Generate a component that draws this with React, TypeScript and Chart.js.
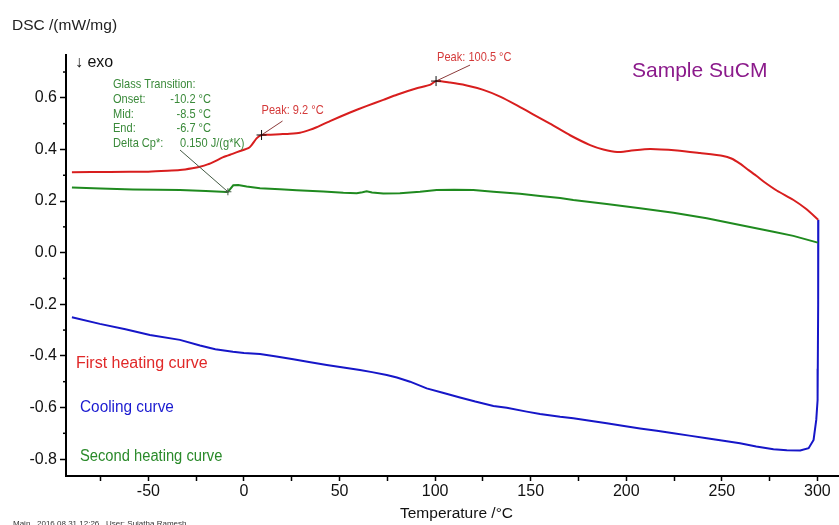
import React, { useEffect, useRef } from 'react';
import { Chart, registerables } from 'chart.js';

Chart.register(...registerables);

// First heating curve (red)
const firstHeatingT = [-90, -70, -50, -40, -33.5, -27, -23, -19, -15, -10.8, -6, -2, 2.3, 4, 6.6, 9.2, 14, 18.8, 24, 29.3, 34, 38, 45, 55.5, 64, 72.9, 80, 90.4, 97.3, 100.5, 107.8, 116, 125.2, 134, 142.6, 151, 160.1, 170.6, 181.1, 188, 195.2, 202, 212.5, 226.6, 238.6, 250.7, 255, 259.5, 264, 268.4, 272, 278.9, 287.3, 294, 300.4];
const firstHeatingV = [0.312, 0.313, 0.314, 0.317, 0.32, 0.327, 0.333, 0.342, 0.355, 0.37, 0.383, 0.394, 0.405, 0.417, 0.443, 0.456, 0.457, 0.459, 0.461, 0.465, 0.475, 0.486, 0.51, 0.543, 0.568, 0.592, 0.612, 0.637, 0.65, 0.665, 0.659, 0.649, 0.631, 0.605, 0.572, 0.537, 0.5, 0.455, 0.417, 0.4, 0.39, 0.395, 0.402, 0.396, 0.386, 0.375, 0.365, 0.345, 0.32, 0.296, 0.275, 0.24, 0.205, 0.17, 0.128];

// Second heating curve (green)
const secondHeatingT = [-90, -75, -58, -45, -33.5, -20, -9, -8.4, -5.6, -3, 1.4, 8.4, 18.8, 27.6, 41.5, 52, 59, 62, 64.2, 67, 72.9, 81.6, 92.1, 100.8, 110, 120, 130.5, 144.4, 154.9, 165.4, 172.3, 189.8, 207.2, 224.7, 242.1, 259.5, 277, 287.4, 300.2];
const secondHeatingV = [0.253, 0.249, 0.245, 0.244, 0.243, 0.239, 0.235, 0.236, 0.261, 0.262, 0.256, 0.25, 0.246, 0.242, 0.237, 0.232, 0.23, 0.234, 0.238, 0.233, 0.229, 0.23, 0.236, 0.243, 0.244, 0.243, 0.236, 0.228, 0.22, 0.212, 0.204, 0.189, 0.172, 0.155, 0.133, 0.107, 0.081, 0.065, 0.039];

// Cooling curve (blue), recorded from 300 °C downwards
const coolingT = [300.5, 300.4, 300.2, 300.1, 299.4, 298, 295.4, 291, 284, 277, 268, 259.5, 250, 242.1, 233, 224.7, 216, 207.2, 198, 189.8, 181, 172.3, 165.4, 154.9, 147.9, 137.5, 130.5, 121, 113, 104, 95.6, 86.9, 80, 74.7, 67, 60.7, 52, 43.3, 34, 25.8, 17, 8.4, 0, -5.8, -15, -23, -33.5, -49.2, -62, -75.4, -90];
const coolingV = [0.128, -0.2, -0.45, -0.571, -0.648, -0.726, -0.758, -0.767, -0.766, -0.762, -0.751, -0.739, -0.728, -0.719, -0.709, -0.7, -0.69, -0.681, -0.671, -0.661, -0.651, -0.642, -0.636, -0.625, -0.616, -0.601, -0.594, -0.577, -0.561, -0.543, -0.526, -0.5, -0.484, -0.474, -0.463, -0.455, -0.445, -0.435, -0.424, -0.413, -0.402, -0.393, -0.389, -0.384, -0.374, -0.36, -0.338, -0.319, -0.297, -0.276, -0.25];

// Axes
const xTickValues = [-75, -50, -25, 0, 25, 50, 75, 100, 125, 150, 175, 200, 225, 250, 275, 300];
const yTickValues = [-0.8, -0.6, -0.4, -0.2, 0.0, 0.2, 0.4, 0.6];
const yMinorTicks = [-0.7, -0.5, -0.3, -0.1, 0.1, 0.3, 0.5, 0.7];

// Annotations
const peakTemps = [9.2, 100.5];
const peakValues = [0.456, 0.665];
const peakLabels = ['Peak: 9.2 °C', 'Peak: 100.5 °C'];
const glassTemp = -8.4;
const glassValue = 0.236;
const glassTitle = 'Glass Transition:';
const glassNames = ['Onset:', 'Mid:', 'End:', 'Delta Cp*:'];
const glassNumbers = ['-10.2 °C', '-8.5 °C', '-6.7 °C', '0.150 J/(g*K)'];
const curveNames = ['First heating curve', 'Cooling curve', 'Second heating curve'];

const RED = '#d81e1e';
const GREEN = '#1f8a1f';
const BLUE = '#1616c8';
const FONT = '"Liberation Sans", Arial, sans-serif';

function txt(ctx: CanvasRenderingContext2D, s: string, x: number, y: number, size: number, color: string, align: CanvasTextAlign = 'left', sx = 1) {
  ctx.save();
  ctx.translate(x, y);
  ctx.scale(sx, 1);
  ctx.font = `${size}px ${FONT}`;
  ctx.fillStyle = color;
  ctx.textAlign = align;
  ctx.textBaseline = 'alphabetic';
  ctx.fillText(s, 0, 0);
  ctx.restore();
}

function cross(ctx: CanvasRenderingContext2D, x: number, y: number, r: number) {
  ctx.beginPath();
  ctx.moveTo(x - r, y);
  ctx.lineTo(x + r, y);
  ctx.moveTo(x, y - r);
  ctx.lineTo(x, y + r);
  ctx.stroke();
}

const overlayPlugin = {
  id: 'overlay',
  afterDatasetsDraw(chart: any) {
    const ctx: CanvasRenderingContext2D = chart.ctx;
    const xs = chart.scales.x;
    const ys = chart.scales.y;
    const area = chart.chartArea;
    ctx.save();
    // minor y ticks
    ctx.strokeStyle = '#000';
    ctx.lineWidth = 1.5;
    yMinorTicks.forEach((v) => {
      const py = ys.getPixelForValue(v);
      ctx.beginPath();
      ctx.moveTo(area.left - 3, py);
      ctx.lineTo(area.left, py);
      ctx.stroke();
    });

    // axis titles
    txt(ctx, 'DSC /(mW/mg)', 12, 30, 15.5, '#222');
    txt(ctx, '↓ exo', 75, 67, 16, '#111');
    txt(ctx, 'Temperature /°C', 400, 518, 15.5, '#111');
    txt(ctx, 'Sample SuCM', 632, 77, 21, '#8b1a8b');

    // curve names
    txt(ctx, curveNames[0], 76, 368, 16, '#e02828', 'left', 1.0);
    txt(ctx, curveNames[1], 80, 412, 16, '#1a1ad0', 'left', 0.96);
    txt(ctx, curveNames[2], 80, 461, 16, '#2a8a2a', 'left', 0.92);

    // glass transition
    const gx = xs.getPixelForValue(glassTemp);
    const gy = ys.getPixelForValue(glassValue);
    ctx.strokeStyle = '#445a44';
    ctx.lineWidth = 1;
    ctx.beginPath();
    ctx.moveTo(180, 150);
    ctx.lineTo(gx, gy);
    ctx.stroke();
    cross(ctx, gx, gy, 3.5);
    const gc = '#3a8a3a';
    txt(ctx, glassTitle, 113, 88, 13, gc, 'left', 0.85);
    const baselines = [103, 118, 132, 147];
    glassNames.forEach((n, i) => {
      txt(ctx, n, 113, baselines[i], 13, gc, 'left', 0.85);
      if (i < 3) txt(ctx, glassNumbers[i], 211, baselines[i], 13, gc, 'right', 0.85);
      else txt(ctx, glassNumbers[i], 180, baselines[i], 13, gc, 'left', 0.85);
    });

    // peaks
    const leadDx = [21, 34];
    const leadDy = [-14, -16];
    const labDx = [0, 1];
    const labDy = [-21, -20];
    peakTemps.forEach((t, i) => {
      const px = xs.getPixelForValue(t);
      const py = ys.getPixelForValue(peakValues[i]);
      ctx.strokeStyle = '#8b3a3a';
      ctx.lineWidth = 1;
      ctx.beginPath();
      ctx.moveTo(px, py);
      ctx.lineTo(px + leadDx[i], py + leadDy[i]);
      ctx.stroke();
      ctx.strokeStyle = '#111';
      cross(ctx, px, py, 5);
      txt(ctx, peakLabels[i], px + labDx[i], py + labDy[i], 13, '#d43a3a', 'left', 0.85);
    });

    // footer
    txt(ctx, 'Main   2016.08.31 12:26   User: Sujatha Ramesh', 13, 526, 8, '#333');
    ctx.restore();
  },
};

export default function App() {
  const ref = useRef<HTMLCanvasElement | null>(null);
  useEffect(() => {
    if (!ref.current) return;
    const mk = (T: number[], V: number[]) => T.map((t, i) => ({ x: t, y: V[i] }));
    const chart = new Chart(ref.current, {
      type: 'line',
      data: {
        datasets: [
          { label: 'First heating curve', data: mk(firstHeatingT, firstHeatingV), borderColor: RED, borderWidth: 2, pointRadius: 0, tension: 0.2, fill: false },
          { label: 'Second heating curve', data: mk(secondHeatingT, secondHeatingV), borderColor: GREEN, borderWidth: 2, pointRadius: 0, tension: 0, fill: false },
          { label: 'Cooling curve', data: mk(coolingT, coolingV), borderColor: BLUE, borderWidth: 2, pointRadius: 0, tension: 0, fill: false },
        ],
      },
      options: {
        animation: false,
        responsive: false,
        maintainAspectRatio: false,
        layout: { padding: { top: 55, left: 0, right: 0, bottom: 0 } },
        plugins: { legend: { display: false }, tooltip: { enabled: false } },
        scales: {
          x: {
            type: 'linear',
            min: -93.1,
            max: 311.3,
            afterBuildTicks: (s: any) => { s.ticks = xTickValues.map((value) => ({ value })); },
            afterFit: (s: any) => { s.height = 49; },
            border: { display: true, color: '#000', width: 2 },
            grid: { display: true, drawOnChartArea: false, drawTicks: true, tickLength: 5, tickColor: '#000', tickWidth: 1.5 },
            ticks: {
              padding: 1,
              color: '#111',
              font: { family: FONT, size: 16 },
              maxRotation: 0,
              autoSkip: false,
              callback: (v: any) => (Number(v) % 50 === 0 ? String(v) : ''),
            },
          },
          y: {
            type: 'linear',
            min: -0.8655,
            max: 0.766,
            afterBuildTicks: (s: any) => { s.ticks = yTickValues.map((value) => ({ value })); },
            afterFit: (s: any) => { s.width = 66; },
            border: { display: true, color: '#000', width: 2 },
            grid: { display: true, drawOnChartArea: false, drawTicks: true, tickLength: 6, tickColor: '#000', tickWidth: 1.5 },
            ticks: {
              padding: 3,
              color: '#111',
              font: { family: FONT, size: 16 },
              autoSkip: false,
              callback: (v: any) => Number(v).toFixed(1),
            },
          },
        },
      },
      plugins: [overlayPlugin],
    } as any);
    return () => chart.destroy();
  }, []);
  return (
    <div style={{ position: 'absolute', left: 0, top: 0, width: 839, height: 525, background: '#fff' }}>
      <canvas ref={ref} width={839} height={525} style={{ display: 'block', width: 839, height: 525 }} />
    </div>
  );
}
